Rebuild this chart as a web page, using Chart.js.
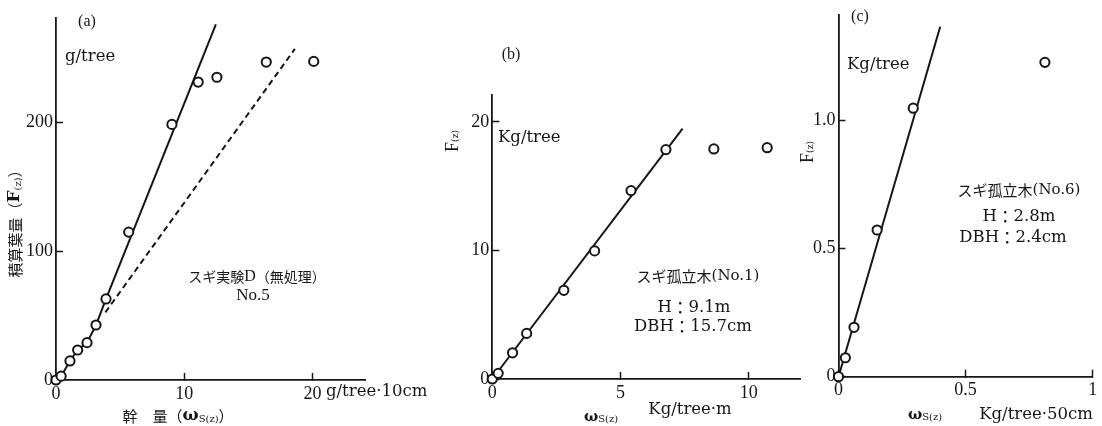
<!DOCTYPE html>
<html>
<head>
<meta charset="utf-8">
<script src="https://cdn.jsdelivr.net/npm/chart.js@4.4.1/dist/chart.umd.min.js"></script>
<style>
  html, body { margin: 0; background: #fff; }
  #wrap { position: relative; width: 1102px; height: 426px; overflow: hidden; }
  .panel { position: absolute; top: 0; height: 426px; }
</style>
</head>
<body>
<div id="wrap">
  <div class="panel" style="left:0;width:440px"><canvas id="ca"></canvas></div>
  <div class="panel" style="left:440px;width:370px"><canvas id="cb"></canvas></div>
  <div class="panel" style="left:780px;width:322px"><canvas id="cc"></canvas></div>
</div>
<script>
// (a) スギ実験D（無処理） No.5 — g/tree vs g/tree·10cm
const aStem = [0, 0.4, 1.09, 1.69, 2.42, 3.12, 3.9, 5.67, 9.04, 11.09, 12.55, 16.4, 20.1];
const aLeaf = [0, 3, 14.8, 23.3, 29, 42.7, 62.9, 114.8, 198.4, 231.3, 235, 246.8, 247.3];
const aFitStem = [0, 0.4, 1.09, 1.69, 2.42, 3.12, 3.9, 12.47];
const aFitLeaf = [0, 3, 14.8, 23.3, 29, 42.7, 62.9, 276];
const aDashStem = [3.85, 18.63];
const aDashLeaf = [52.5, 257];
const aXTicks = [0, 10, 20];
const aXLabels = ['0', '10', '20'];
const aYTicks = [0, 100, 200];
const aYLabels = ['0', '100', '200'];

// (b) スギ孤立木(No.1) — Kg/tree vs Kg/tree·m
const bStem = [0, 0.23, 0.79, 1.34, 2.79, 3.99, 5.41, 6.77, 8.64, 10.72];
const bLeaf = [0, 0.44, 2.04, 3.55, 6.9, 9.97, 14.66, 17.85, 17.9, 18.0];
const bFitStem = [0, 7.42];
const bFitLeaf = [0, 19.48];
const bXTicks = [0, 5, 10];
const bXLabels = ['0', '5', '10'];
const bYTicks = [0, 10, 20];
const bYLabels = ['0', '10', '20'];

// (c) スギ孤立木(No.6) — Kg/tree vs Kg/tree·50cm
const cStem = [0, 0.027, 0.061, 0.152, 0.294, 0.812];
const cLeaf = [0, 0.074, 0.193, 0.573, 1.049, 1.228];
const cFitStem = [0, 0.40];
const cFitLeaf = [0, 1.367];
const cXTicks = [0, 0.5, 1];
const cXLabels = ['0', '0.5', '1'];
const cYTicks = [0, 0.5, 1.0];
const cYLabels = ['0', '0.5', '1.0'];

const INK = '#161616';
const SERIF = '"DejaVu Serif", "Noto Sans CJK JP", serif';
const LIB = '"Liberation Serif", "Noto Sans CJK JP", serif';
const JP = '"Noto Sans CJK JP", sans-serif';

const pairs = (xs, ys) => xs.map((x, i) => ({ x, y: ys[i] }));

// runs: [text, size, family, dy, weight]
function drawNote(ctx, n) {
  ctx.save();
  ctx.translate(n.x, n.y);
  if (n.rot) ctx.rotate(-Math.PI / 2);
  ctx.fillStyle = INK;
  ctx.textBaseline = 'middle';
  ctx.textAlign = 'left';
  const fontOf = (r) => `${r[4] || 'normal'} ${r[1]}px ${r[2] || SERIF}`;
  const widths = n.runs.map((r) => { ctx.font = fontOf(r); return ctx.measureText(r[0]).width; });
  const total = widths.reduce((a, b) => a + b, 0);
  let x = n.align === 'left' ? 0 : -total / 2;
  n.runs.forEach((r, i) => {
    ctx.font = fontOf(r);
    ctx.fillText(r[0], x, r[3] || 0);
    x += widths[i];
  });
  ctx.restore();
}

const notesPlugin = (notes) => ({
  id: 'notes',
  afterDraw(chart) { notes.forEach((n) => drawNote(chart.ctx, n)); },
});

function axis(min, max, ticks, labels, size) {
  return {
    type: 'linear',
    min, max,
    afterBuildTicks: (s) => { s.ticks = ticks.map((v) => ({ value: v })); },
    afterFit: (s) => {
      if (s.isHorizontal()) { s.height = size; s.paddingLeft = 0; s.paddingRight = 0; }
      else { s.width = size; s.paddingTop = 0; s.paddingBottom = 0; }
    },
    grid: { drawOnChartArea: false, drawTicks: true, tickLength: -7, tickWidth: 1.5, tickColor: INK },
    border: { display: true, color: INK, width: 1.8 },
    ticks: {
      color: INK,
      font: { family: LIB, size: 18 },
      padding: 10,
      maxRotation: 0,
      autoSkip: false,
      callback: (v, i) => labels[i],
    },
  };
}

function makePanel(id, p) {
  const datasets = [{
    data: pairs(p.x, p.y),
    pointRadius: 4.6,
    pointHoverRadius: 4.6,
    pointBorderWidth: 2,
    pointBackgroundColor: '#fff',
    pointBorderColor: INK,
    showLine: false,
    clip: false,
    order: 0,
  }];
  p.fits.forEach((f) => datasets.push({
    data: pairs(f.x, f.y),
    showLine: true,
    borderColor: INK,
    borderWidth: 2,
    borderDash: f.dash || [],
    pointRadius: 0,
    tension: 0,
    clip: false,
    order: 1,
  }));
  return new Chart(document.getElementById(id), {
    type: 'scatter',
    data: { datasets },
    options: {
      responsive: true,
      maintainAspectRatio: false,
      animation: false,
      events: [],
      layout: { padding: p.pad },
      plugins: { legend: { display: false }, tooltip: { enabled: false } },
      scales: {
        x: axis(0, p.xMax, p.xTicks, p.xLabels, 30),
        y: axis(0, p.yMax, p.yTicks, p.yLabels, p.yw),
      },
    },
    plugins: [notesPlugin(p.notes)],
  });
}

makePanel('ca', {
  x: aStem, y: aLeaf,
  fits: [{ x: aFitStem, y: aFitLeaf }, { x: aDashStem, y: aDashLeaf, dash: [6, 4] }],
  xMax: 24.1, yMax: 281,
  xTicks: aXTicks, xLabels: aXLabels, yTicks: aYTicks, yLabels: aYLabels,
  yw: 50,
  pad: { left: 6, right: 75, top: 18, bottom: 16 },
  notes: [
    { x: 87, y: 22, runs: [['(a)', 16, LIB]] },
    { x: 65, y: 57, align: 'left', runs: [['g/tree', 16.5]] },
    { x: 257, y: 277, runs: [['スギ実験', 14, JP], ['D', 16, LIB], ['（無処理）', 14, JP]] },
    { x: 253, y: 296, runs: [['No.5', 17, LIB]] },
    { x: 326, y: 392, align: 'left', runs: [['g/tree·10cm', 16.5]] },
    { x: 178, y: 416, runs: [['幹　量（', 15, JP], ['ω', 17, SERIF, 0, 'bold'], ['S(z)', 10, SERIF, 3], ['）', 15, JP]] },
    { x: 15, y: 220, rot: true, runs: [['積算葉量（', 15, JP], ['F', 17, SERIF, 0, 'bold'], ['(z)', 10, SERIF, 3], ['）', 15, JP]] },
  ],
});

makePanel('cb', {
  x: bStem, y: bLeaf,
  fits: [{ x: bFitStem, y: bFitLeaf }],
  xMax: 12.0, yMax: 22.1,
  xTicks: bXTicks, xLabels: bXLabels, yTicks: bYTicks, yLabels: bYLabels,
  yw: 40,
  pad: { left: 12.3, right: 10, top: 95, bottom: 17 },
  notes: [
    { x: 71, y: 55, runs: [['(b)', 16, LIB]] },
    { x: 58, y: 138, align: 'left', runs: [['Kg/tree', 16.5]] },
    { x: 258, y: 276, runs: [['スギ孤立木', 15, JP], ['(No.1)', 15]] },
    { x: 254, y: 308, runs: [['H', 16.5], ['：', 16.5, JP], ['9.1m', 16.5]] },
    { x: 253, y: 327, runs: [['DBH', 16.5], ['：', 16.5, JP], ['15.7cm', 16.5]] },
    { x: 250, y: 410, runs: [['Kg/tree·m', 16.5]] },
    { x: 161, y: 417, runs: [['ω', 15, SERIF, 0, 'bold'], ['S(z)', 10, SERIF, 2]] },
    { x: 13, y: 141, rot: true, runs: [['F', 18, LIB], ['(z)', 9, SERIF, 3]] },
  ],
});

makePanel('cc', {
  x: cStem, y: cLeaf,
  fits: [{ x: cFitStem, y: cFitLeaf }],
  xMax: 1.0, yMax: 1.413,
  xTicks: cXTicks, xLabels: cXLabels, yTicks: cYTicks, yLabels: cYLabels,
  yw: 40,
  pad: { left: 18.5, right: 9.3, top: 15, bottom: 19.3 },
  notes: [
    { x: 80, y: 17, runs: [['(c)', 16, LIB]] },
    { x: 67, y: 65, align: 'left', runs: [['Kg/tree', 16.5]] },
    { x: 239, y: 190, runs: [['スギ孤立木', 15, JP], ['(No.6)', 15]] },
    { x: 239, y: 217, runs: [['H', 16.5], ['：', 16.5, JP], ['2.8m', 16.5]] },
    { x: 233, y: 238, runs: [['DBH', 16.5], ['：', 16.5, JP], ['2.4cm', 16.5]] },
    { x: 256, y: 415, runs: [['Kg/tree·50cm', 16.5]] },
    { x: 145, y: 415, runs: [['ω', 15, SERIF, 0, 'bold'], ['S(z)', 10, SERIF, 2]] },
    { x: 28, y: 152, rot: true, runs: [['F', 18, LIB], ['(z)', 9, SERIF, 3]] },
  ],
});
</script>
</body>
</html>
